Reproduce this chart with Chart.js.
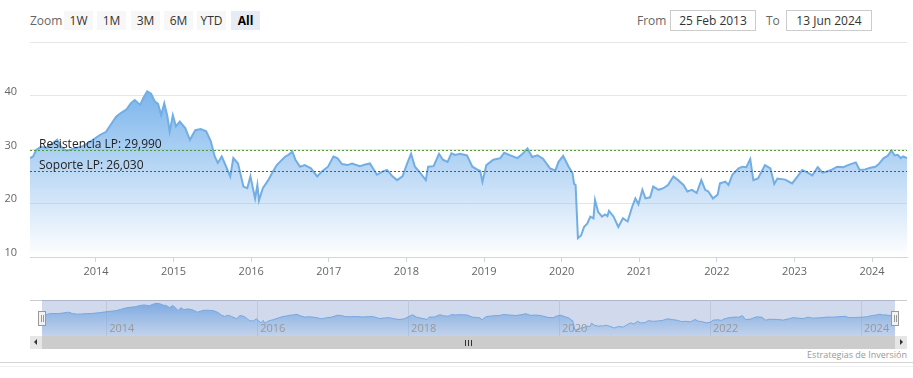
<!DOCTYPE html>
<html>
<head>
<meta charset="utf-8">
<script src="https://cdn.jsdelivr.net/npm/chart.js@4.4.1/dist/chart.umd.min.js"></script>
<style>
  html, body { margin: 0; padding: 0; background: #fff; }
  body { width: 913px; height: 378px; position: relative; overflow: hidden; font-family: "Open Sans", sans-serif; }
  .txt { position: absolute; top: 11px; line-height: 19px; font-size: 12px; color: #666; }
  .btn { position: absolute; top: 11px; width: 29px; height: 19px; line-height: 19px; background: #f7f7f7; color: #333; font-size: 12px; text-align: center; }
  .btn.sel { background: #e6ebf5; color: #000; font-weight: bold; }
  .inp { position: absolute; top: 10px; height: 19px; line-height: 19px; border: 1px solid #ccc; font-size: 12px; color: #333; text-align: center; }
  #mainWrap { position: absolute; left: 0; top: 0; }
  #navWrap { position: absolute; left: 42px; top: 300px; }
  .navTop { position: absolute; left: 30px; top: 300px; width: 877px; height: 1px; background: #ccc; }
  .handle { position: absolute; top: 311px; width: 6px; height: 13px; background: #f2f2f2; border: 1px solid #999; }
  .handle i { position: absolute; top: 3px; width: 1px; height: 7px; background: #999; }
  #track { position: absolute; left: 30px; top: 336px; width: 877px; height: 13px; background: #f2f2f2; }
  #thumb { position: absolute; left: 42px; top: 336px; width: 853px; height: 13px; background: #ccc; }
  .rifle { position: absolute; top: 340px; width: 1px; height: 6px; background: #333; }
  .sbtn { position: absolute; top: 336px; width: 12px; height: 13px; background: #e6e6e6; }
  .arrow { position: absolute; top: 339px; width: 0; height: 0; border-top: 3px solid transparent; border-bottom: 3px solid transparent; }
  #credits { position: absolute; right: 6px; top: 348px; font-size: 9px; color: #999; }
  .hr { position: absolute; left: 0; width: 913px; height: 1px; }
</style>
</head>
<body>
<div class="txt" style="left:30px">Zoom</div>
<div class="btn" style="left:64px">1W</div>
<div class="btn" style="left:97px">1M</div>
<div class="btn" style="left:131px">3M</div>
<div class="btn" style="left:164px">6M</div>
<div class="btn" style="left:197px">YTD</div>
<div class="btn sel" style="left:231px">All</div>
<div class="txt" style="left:637px">From</div>
<div class="inp" style="left:670px;width:84px">25 Feb 2013</div>
<div class="txt" style="left:766px">To</div>
<div class="inp" style="left:786px;width:84px">13 Jun 2024</div>

<div id="mainWrap"><canvas id="main" width="913" height="285"></canvas></div>

<div class="navTop"></div>
<div id="navWrap"><canvas id="nav" width="853" height="36"></canvas></div>
<div class="handle" style="left:38px"><i style="left:2px"></i><i style="left:4px"></i></div>
<div class="handle" style="left:891px"><i style="left:2px"></i><i style="left:4px"></i></div>

<div id="track"></div>
<div id="thumb"></div>
<div class="rifle" style="left:465px"></div>
<div class="rifle" style="left:468px"></div>
<div class="rifle" style="left:471px"></div>
<div class="sbtn" style="left:30px"></div>
<div class="sbtn" style="left:895px"></div>
<div class="arrow" style="left:34px;border-right:3px solid #333"></div>
<div class="arrow" style="left:900px;border-left:3px solid #333"></div>

<div id="credits">Estrategias de Inversión</div>
<div class="hr" style="top:362px;background:#d4d4d4"></div>
<div class="hr" style="top:366px;background:#f0f0f0"></div>

<script>
// decimal years (25 Feb 2013 .. 13 Jun 2024) and closing prices
const dates = [
  2013.15, 2013.19, 2013.23, 2013.29, 2013.36, 2013.43, 2013.50, 2013.55, 2013.61, 2013.66,
  2013.72, 2013.81, 2013.90, 2013.99, 2014.05, 2014.13, 2014.19, 2014.26, 2014.32, 2014.39,
  2014.45, 2014.50, 2014.57, 2014.61, 2014.66, 2014.71, 2014.76, 2014.80, 2014.84, 2014.88,
  2014.92, 2014.95, 2014.99, 2015.03, 2015.08, 2015.15, 2015.21, 2015.28, 2015.35, 2015.42,
  2015.48, 2015.53, 2015.57, 2015.62, 2015.66, 2015.73, 2015.77, 2015.83, 2015.90, 2015.95,
  2015.99, 2016.05, 2016.08, 2016.10, 2016.15, 2016.22, 2016.28, 2016.33, 2016.37, 2016.44,
  2016.48, 2016.53, 2016.57, 2016.63, 2016.69, 2016.77, 2016.85, 2016.91, 2016.99, 2017.06,
  2017.11, 2017.17, 2017.24, 2017.30, 2017.40, 2017.47, 2017.53, 2017.62, 2017.69, 2017.75,
  2017.82, 2017.88, 2017.95, 2018.01, 2018.06, 2018.11, 2018.18, 2018.25, 2018.28, 2018.35,
  2018.42, 2018.47, 2018.53, 2018.58, 2018.63, 2018.69, 2018.78, 2018.85, 2018.91, 2018.95,
  2018.98, 2019.03, 2019.12, 2019.21, 2019.26, 2019.34, 2019.43, 2019.49, 2019.56, 2019.62,
  2019.69, 2019.76, 2019.85, 2019.92, 2019.96, 2020.02, 2020.09, 2020.14, 2020.16, 2020.18,
  2020.21, 2020.25, 2020.29, 2020.33, 2020.37, 2020.41, 2020.43, 2020.47, 2020.52, 2020.56,
  2020.59, 2020.61, 2020.67, 2020.73, 2020.79, 2020.85, 2020.91, 2020.95, 2020.99, 2021.04,
  2021.08, 2021.14, 2021.18, 2021.25, 2021.31, 2021.37, 2021.44, 2021.50, 2021.57, 2021.62,
  2021.68, 2021.74, 2021.80, 2021.85, 2021.89, 2021.95, 2022.01, 2022.04, 2022.11, 2022.15,
  2022.20, 2022.28, 2022.33, 2022.38, 2022.43, 2022.47, 2022.53, 2022.62, 2022.69, 2022.74,
  2022.78, 2022.88, 2022.97, 2023.04, 2023.10, 2023.17, 2023.23, 2023.30, 2023.36, 2023.42,
  2023.49, 2023.55, 2023.63, 2023.69, 2023.79, 2023.84, 2023.91, 2023.98, 2024.04, 2024.08,
  2024.15, 2024.20, 2024.25, 2024.29, 2024.33, 2024.37, 2024.40, 2024.45
];
const prices = [
  28.4, 28.7, 29.9, 30.5, 30.3, 31.0, 31.8, 30.5, 29.8, 29.9,
  30.2, 30.5, 31.2, 32.1, 32.7, 33.3, 34.6, 36.1, 36.8, 37.4,
  38.6, 39.2, 38.3, 39.6, 40.8, 40.4, 38.9, 38.5, 36.4, 38.6,
  36.2, 33.3, 36.4, 34.3, 35.2, 34.0, 31.8, 33.6, 33.8, 33.4,
  31.5, 28.7, 27.5, 28.7, 27.4, 25.0, 28.4, 27.4, 23.1, 22.8,
  25.0, 20.9, 23.4, 20.5, 22.8, 24.3, 25.9, 27.1, 27.7, 28.7,
  29.0, 29.6, 28.1, 26.8, 27.1, 26.5, 25.0, 25.9, 26.8, 28.7,
  28.4, 27.3, 27.1, 27.4, 26.9, 27.2, 27.4, 25.3, 25.9, 26.2,
  25.0, 24.3, 25.0, 27.4, 29.2, 26.8, 25.6, 24.3, 26.8, 26.9,
  29.2, 28.1, 27.7, 29.3, 29.0, 29.2, 28.9, 26.8, 26.3, 26.0,
  24.0, 27.1, 28.1, 28.4, 29.4, 28.9, 28.4, 29.1, 30.2, 28.6,
  28.9, 28.3, 26.5, 26.1, 27.7, 28.8, 26.8, 25.6, 23.6, 23.4,
  13.5, 14.0, 15.6, 16.2, 17.5, 17.2, 20.6, 18.4, 17.5, 17.9,
  17.6, 18.6, 17.5, 15.6, 17.2, 16.6, 19.4, 20.9, 19.8, 22.5,
  20.9, 21.1, 23.1, 22.5, 22.8, 23.4, 25.0, 24.3, 23.4, 22.2,
  22.5, 21.9, 24.3, 22.5, 22.2, 20.9, 21.6, 23.7, 24.0, 23.4,
  25.3, 26.5, 26.8, 26.7, 28.2, 24.3, 24.6, 27.1, 26.5, 23.6,
  24.6, 24.4, 23.7, 25.0, 26.2, 25.7, 25.2, 26.7, 25.7, 25.9,
  26.3, 26.8, 26.7, 27.1, 27.6, 26.2, 26.3, 26.6, 26.8, 27.2,
  28.4, 28.8, 29.8, 28.9, 29.0, 28.4, 28.7, 28.4
];
const yTicks = [10, 20, 30, 40, 50];
const navYears = [2014, 2016, 2018, 2020, 2022, 2024];
const levelValues = [29.99, 26.03];
const levelLabels = ['Resistencia LP: 29,990', 'Soporte LP: 26,030'];
const levelColors = ['#4f9a35', '#c02640'];

const points = dates.map((d, i) => ({ x: d, y: prices[i] }));
const FONT = '"Open Sans", sans-serif';

function areaGradient(context, topAlpha, bottomAlpha) {
  const chart = context.chart;
  const area = chart.chartArea;
  if (!area) return null;
  const top = chart.scales.y.getPixelForValue(Math.max(...prices));
  const g = chart.ctx.createLinearGradient(0, top, 0, area.bottom);
  g.addColorStop(0, `rgba(124,181,236,${topAlpha})`);
  g.addColorStop(1, `rgba(124,181,236,${bottomAlpha})`);
  return g;
}

// support / resistance plot lines with their labels
const levelsPlugin = {
  id: 'levels',
  afterDatasetsDraw(chart) {
    const { ctx, chartArea, scales } = chart;
    levelValues.forEach((v, i) => {
      const py = Math.round(scales.y.getPixelForValue(v)) + 0.5;
      ctx.save();
      ctx.strokeStyle = levelColors[i];
      ctx.lineWidth = 1;
      ctx.setLineDash([2, 2]);
      ctx.beginPath();
      ctx.moveTo(chartArea.left, py);
      ctx.lineTo(chartArea.right, py);
      ctx.stroke();
      ctx.setLineDash([]);
      ctx.fillStyle = '#222';
      ctx.font = '12px ' + FONT;
      ctx.textBaseline = 'alphabetic';
      ctx.fillText(levelLabels[i], chartArea.left + 9, py - 2.5);
      ctx.restore();
    });
  }
};

new Chart(document.getElementById('main'), {
  type: 'line',
  data: {
    datasets: [{
      data: points,
      borderColor: '#72aee3',
      borderWidth: 2,
      pointRadius: 0,
      tension: 0,
      fill: 'start',
      backgroundColor: (c) => areaGradient(c, 1, 0)
    }]
  },
  options: {
    responsive: false,
    animation: false,
    layout: { padding: { top: 42, right: 6, left: 0, bottom: 0 } },
    plugins: { legend: { display: false }, tooltip: { enabled: false } },
    scales: {
      x: {
        type: 'linear',
        min: dates[0],
        max: dates[dates.length - 1],
        afterFit: (s) => { s.height = 28; },
        border: { color: '#ccd6eb', width: 1 },
        grid: { drawOnChartArea: false, drawTicks: true, tickLength: 5, color: '#ccd6eb' },
        ticks: {
          stepSize: 1,
          includeBounds: false,
          autoSkip: false,
          maxRotation: 0,
          padding: 3,
          color: '#666',
          font: { family: FONT, size: 11 },
          callback: (v) => String(v)
        }
      },
      y: {
        min: 10,
        max: 50,
        afterFit: (s) => { s.width = 30; },
        border: { display: false },
        grid: { color: '#e6e6e6', drawTicks: false },
        afterBuildTicks: (s) => { s.ticks = yTicks.map((v) => ({ value: v })); },
        ticks: {
          padding: 13,
          labelOffset: -4,
          color: '#666',
          font: { family: FONT, size: 11 },
          callback: (v) => (v === 50 ? '' : String(v))
        }
      }
    }
  },
  plugins: [levelsPlugin]
});

// navigator: grid, mask and year labels drawn through its own scales
const navPlugin = {
  id: 'navDecor',
  beforeDatasetsDraw(chart) {
    const { ctx, chartArea, scales } = chart;
    ctx.save();
    ctx.strokeStyle = '#e6e6e6';
    ctx.lineWidth = 1;
    navYears.forEach((yr) => {
      const px = Math.round(scales.x.getPixelForValue(yr)) + 0.5;
      ctx.beginPath();
      ctx.moveTo(px, chartArea.top);
      ctx.lineTo(px, chartArea.bottom);
      ctx.stroke();
    });
    ctx.restore();
  },
  afterDatasetsDraw(chart) {
    const { ctx, chartArea, scales } = chart;
    ctx.save();
    ctx.fillStyle = 'rgba(102,133,194,0.3)';
    ctx.fillRect(chartArea.left, chartArea.top, chartArea.right - chartArea.left, chartArea.bottom - chartArea.top);
    ctx.fillStyle = '#999';
    ctx.font = '11px ' + FONT;
    ctx.textBaseline = 'alphabetic';
    navYears.forEach((yr) => {
      const px = scales.x.getPixelForValue(yr);
      ctx.fillText(String(yr), px + 3, chartArea.bottom - 4);
    });
    ctx.restore();
  }
};

new Chart(document.getElementById('nav'), {
  type: 'line',
  data: {
    datasets: [{
      data: points,
      borderColor: '#7cb5ec',
      borderWidth: 1,
      pointRadius: 0,
      tension: 0,
      fill: 'start',
      backgroundColor: (c) => areaGradient(c, 0.9, 0.15)
    }]
  },
  options: {
    responsive: false,
    animation: false,
    layout: { padding: 0 },
    plugins: { legend: { display: false }, tooltip: { enabled: false } },
    scales: {
      x: { type: 'linear', display: false, min: dates[0], max: dates[dates.length - 1] },
      y: { display: false, min: 7.5, max: 44.2 }
    }
  },
  plugins: [navPlugin]
});
</script>
</body>
</html>
